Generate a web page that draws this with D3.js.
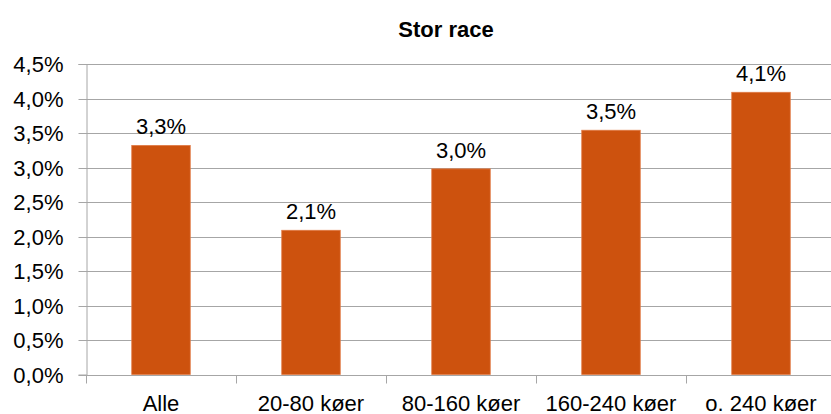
<!DOCTYPE html>
<html>
<head>
<meta charset="utf-8">
<script src="https://cdn.jsdelivr.net/npm/d3@7"></script>
<style>
  body { margin: 0; background: #fff; }
  text { font-family: "Liberation Sans", Arial, sans-serif; fill: #000; }
</style>
</head>
<body>
<div id="chart"></div>
<script>
// data
const categories = ["Alle", "20-80 køer", "80-160 køer", "160-240 køer", "o. 240 køer"]
const values = [3.32, 2.09, 2.98, 3.54, 4.09]
const labels = ["3,3%", "2,1%", "3,0%", "3,5%", "4,1%"]
const yTicks = [0, 0.5, 1, 1.5, 2, 2.5, 3, 3.5, 4, 4.5]

const width = 831, height = 414
const plotLeft = 86, plotRight = 836, plotTop = 64, plotBottom = 374.5

const svg = d3.select("#chart").append("svg")
    .attr("width", width)
    .attr("height", height)

const x = d3.scaleBand()
    .domain(categories)
    .range([plotLeft, plotRight])
    .paddingInner(0.61)
    .paddingOuter(0.305)

const y = d3.scaleLinear()
    .domain([0, 4.5])
    .range([plotBottom, plotTop])

const fmt = d => d.toFixed(1).replace(".", ",") + "%"

// gridlines
svg.append("g")
    .selectAll("line")
    .data(yTicks)
    .enter()
    .append("line")
    .attr("x1", plotLeft)
    .attr("x2", plotRight)
    .attr("y1", d => Math.round(y(d)) + 0.5)
    .attr("y2", d => Math.round(y(d)) + 0.5)
    .attr("stroke", "#a6a6a6")
    .attr("stroke-width", 1)

// y axis
const yAxis = svg.append("g")
    .attr("transform", `translate(${plotLeft + 0.5},0)`)
    .call(d3.axisLeft(y).tickValues(yTicks).tickFormat(fmt).tickSize(8).tickPadding(15))
yAxis.select(".domain").attr("stroke", "#a6a6a6")
yAxis.selectAll(".tick line").attr("stroke", "#a6a6a6")
yAxis.selectAll(".tick").attr("transform", d => `translate(0,${Math.round(y(d)) + 0.5})`)
yAxis.selectAll("text")
    .style("font-size", "22px")
    .style("font-family", "Liberation Sans, Arial, sans-serif")
    .attr("fill", "#000")

// x axis
const band = (plotRight - plotLeft) / categories.length
const xAxis = svg.append("g")
    .attr("transform", `translate(0,${Math.round(plotBottom) + 0.5})`)
xAxis.append("line")
    .attr("x1", plotLeft).attr("x2", plotRight)
    .attr("stroke", "#a6a6a6")
xAxis.selectAll(".xt")
    .data(d3.range(categories.length + 1))
    .enter()
    .append("line")
    .attr("x1", i => Math.round(plotLeft + i * band) + 0.5)
    .attr("x2", i => Math.round(plotLeft + i * band) + 0.5)
    .attr("y1", 0)
    .attr("y2", 8)
    .attr("stroke", "#a6a6a6")
xAxis.selectAll("text")
    .data(categories)
    .enter()
    .append("text")
    .attr("x", d => x(d) + x.bandwidth() / 2)
    .attr("y", 35)
    .attr("text-anchor", "middle")
    .style("font-size", "22px")
    .text(d => d)

// bars
svg.append("g")
    .selectAll("rect")
    .data(values)
    .enter()
    .append("rect")
    .attr("x", (d, i) => x(categories[i]))
    .attr("y", d => y(d))
    .attr("width", x.bandwidth())
    .attr("height", d => y(0) - y(d))
    .attr("fill", "#cd520e")
    .attr("stroke", "#e07a45")
    .attr("stroke-width", 0.8)

// data labels
svg.append("g")
    .selectAll("text")
    .data(values)
    .enter()
    .append("text")
    .attr("x", (d, i) => x(categories[i]) + x.bandwidth() / 2)
    .attr("y", d => y(d) - 11)
    .attr("text-anchor", "middle")
    .style("font-size", "22px")
    .text((d, i) => labels[i])

// title
svg.append("text")
    .attr("x", 446)
    .attr("y", 37)
    .attr("text-anchor", "middle")
    .style("font-size", "22px")
    .style("font-weight", "bold")
    .text("Stor race")
</script>
</body>
</html>
